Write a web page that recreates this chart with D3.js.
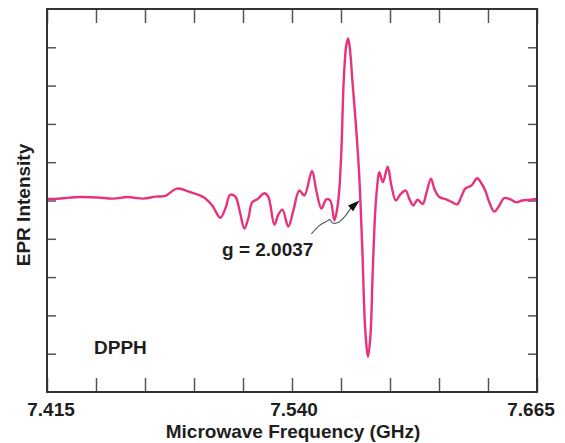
<!DOCTYPE html>
<html>
<head>
<meta charset="utf-8">
<script src="https://cdn.jsdelivr.net/npm/d3@7"></script>
<style>
  html, body { margin: 0; padding: 0; background: #fff; }
  svg { display: block; }
  text { font-family: "Liberation Sans", Arial, Helvetica, sans-serif; font-weight: bold; fill: #1e1e1e; }
</style>
</head>
<body>
<svg id="chart" width="565" height="443"></svg>
<script>
// ---- data (frequency in GHz, EPR intensity in arbitrary units) ----
const frequency = [
  7.4150, 7.4192, 7.4243, 7.4320, 7.4407, 7.4488, 7.4560, 7.4641, 7.4703, 7.4754,
  7.4813, 7.4881, 7.4947, 7.4993, 7.5034, 7.5060, 7.5085, 7.5111, 7.5136, 7.5157,
  7.5177, 7.5197, 7.5223, 7.5259, 7.5279, 7.5310, 7.5330, 7.5351, 7.5381, 7.5407,
  7.5437, 7.5463, 7.5502, 7.5524, 7.5550, 7.5575, 7.5595, 7.5616, 7.5629, 7.5641,
  7.5652, 7.5664, 7.5677, 7.5686, 7.5695, 7.5708, 7.5728, 7.5743, 7.5759, 7.5774,
  7.5788, 7.5800, 7.5812, 7.5825, 7.5835, 7.5845, 7.5864, 7.5888, 7.5907, 7.5930,
  7.5953, 7.5980, 7.5998, 7.6019, 7.6041, 7.6067, 7.6085, 7.6109, 7.6126, 7.6152,
  7.6187, 7.6218, 7.6243, 7.6264, 7.6284, 7.6315, 7.6345, 7.6366, 7.6386, 7.6407,
  7.6432, 7.6458, 7.6483, 7.6514, 7.6544, 7.6575, 7.6616, 7.6650
];
const intensity = [
  0.045, 0.04, 0.065, 0.09, 0.08, 0.05, 0.09, 0.05, 0.10, 0.12,
  0.31, 0.22, 0.09, -0.13, -0.45, -0.21, 0.15, 0.10, -0.34, -0.73,
  -0.47, -0.045, 0.03, 0.19, 0.10, -0.63, -0.37, -0.24, -0.68, -0.26,
  0.26, 0.13, 0.77, 0.26, -0.21, 0.03, 0.0, -0.52, -0.26, 0.26,
  1.31, 3.14, 4.06, 4.23, 3.98, 3.14, 1.83, 0.65, -1.31, -3.40,
  -4.08, -3.55, -1.83, -0.26, 0.39, 0.74, 0.48, 0.88, 0.39, 0.0,
  0.16, 0.26, 0.05, -0.13, 0.02, -0.09, 0.18, 0.57, 0.31, 0.09,
  0.03, -0.05, -0.10, 0.10, 0.31, 0.39, 0.58, 0.45, 0.26, -0.05,
  -0.29, -0.13, 0.065, 0.03, -0.05, 0.0, 0.02, 0.05
];
const xTicks = [7.415, 7.440, 7.465, 7.490, 7.515, 7.540, 7.565, 7.590, 7.615, 7.640, 7.665];
const xTickLabels = ["7.415", "7.540", "7.665"];
const yTicks = [-4, -3, -2, -1, 0, 1, 2, 3, 4];
// annotation arrow path (data space)
const arrowFreq = [7.5499, 7.5541, 7.5575, 7.5592, 7.5609, 7.5638, 7.5672, 7.5700];
const arrowInt  = [-0.87, -0.65, -0.55, -0.50, -0.59, -0.57, -0.40, -0.20];
const arrowTip  = [7.5745, 0.0];

// ---- layout ----
const svg = d3.select("#chart");
const L = 47, T = 9, R = 537, B = 392;

const x = d3.scaleLinear().domain([7.415, 7.665]).range([L, R]);
const y = d3.scaleLinear().domain([-5, 5]).range([B, T]);

const pink = "#e8327e";
const frameColor = "#333";
const tickColor = "#555";

// ticks (inward) via d3 axes
const axisTop = d3.axisBottom(x).tickValues(xTicks).tickSize(14).tickFormat("");
const axisBottom = d3.axisTop(x).tickValues(xTicks).tickSize(14).tickFormat("");
const axisLeft = d3.axisRight(y).tickValues(yTicks).tickSize(9).tickFormat("");
const axisRight = d3.axisLeft(y).tickValues(yTicks).tickSize(9).tickFormat("");

function styleAxis(g) {
  g.select(".domain").remove();
  g.selectAll(".tick line").attr("stroke", tickColor).attr("stroke-width", 1.5);
}
svg.append("g").attr("transform", `translate(0,${T})`).call(axisTop).call(styleAxis);
svg.append("g").attr("transform", `translate(0,${B})`).call(axisBottom).call(styleAxis);
svg.append("g").attr("transform", `translate(${L},0)`).call(axisLeft).call(styleAxis);
svg.append("g").attr("transform", `translate(${R},0)`).call(axisRight).call(styleAxis);

// trace
const pts = frequency.map((f, i) => [f, intensity[i]]);
const line = d3.line().x(d => x(d[0])).y(d => y(d[1])).curve(d3.curveCatmullRom.alpha(0.5));
svg.append("path").datum(pts)
  .attr("d", line)
  .attr("fill", "none")
  .attr("stroke", pink)
  .attr("stroke-width", 2.4)
  .attr("stroke-linejoin", "round");

// frame
svg.append("rect")
  .attr("x", L).attr("y", T).attr("width", R - L).attr("height", B - T)
  .attr("fill", "none").attr("stroke", frameColor).attr("stroke-width", 2);

// x tick labels
const labelOffsets = {"7.415": 4, "7.540": 2, "7.665": -6};
svg.selectAll(".xlab").data(xTickLabels).enter().append("text")
  .attr("class", "xlab")
  .attr("x", d => x(+d) + labelOffsets[d])
  .attr("y", 416)
  .attr("text-anchor", "middle")
  .attr("font-size", 19)
  .text(d => d);

// axis titles
svg.append("text")
  .attr("x", 293).attr("y", 438)
  .attr("text-anchor", "middle")
  .attr("font-size", 19)
  .text("Microwave Frequency (GHz)");
svg.append("text")
  .attr("transform", "translate(30,205) rotate(-90)")
  .attr("text-anchor", "middle")
  .attr("font-size", 19)
  .text("EPR Intensity");

// DPPH label
svg.append("text")
  .attr("x", 94).attr("y", 354)
  .attr("font-size", 19)
  .text("DPPH");

// annotation
const apts = arrowFreq.map((f, i) => [f, arrowInt[i]]);
const aline = d3.line().x(d => x(d[0])).y(d => y(d[1])).curve(d3.curveCatmullRom.alpha(0.5));
svg.append("path").datum(apts)
  .attr("d", aline)
  .attr("fill", "none")
  .attr("stroke", "#555")
  .attr("stroke-width", 1.1);
// arrowhead
{
  const last = apts[apts.length - 1];
  const x0 = x(last[0]), y0 = y(last[1]);
  const x1 = x(arrowTip[0]), y1 = y(arrowTip[1]);
  const ang = Math.atan2(y1 - y0, x1 - x0);
  const len = 12, half = 3.8;
  const bx = x1 - len * Math.cos(ang), by = y1 - len * Math.sin(ang);
  const px = -Math.sin(ang) * half, py = Math.cos(ang) * half;
  svg.append("path")
    .attr("d", `M${x1},${y1} L${bx + px},${by + py} L${bx - px},${by - py} Z`)
    .attr("fill", "#111");
  svg.append("line")
    .attr("x1", x0).attr("y1", y0).attr("x2", bx).attr("y2", by)
    .attr("stroke", "#333").attr("stroke-width", 1.1);
}
svg.append("text")
  .attr("x", 222).attr("y", 256)
  .attr("font-size", 19)
  .text("g = 2.0037");
</script>
</body>
</html>
